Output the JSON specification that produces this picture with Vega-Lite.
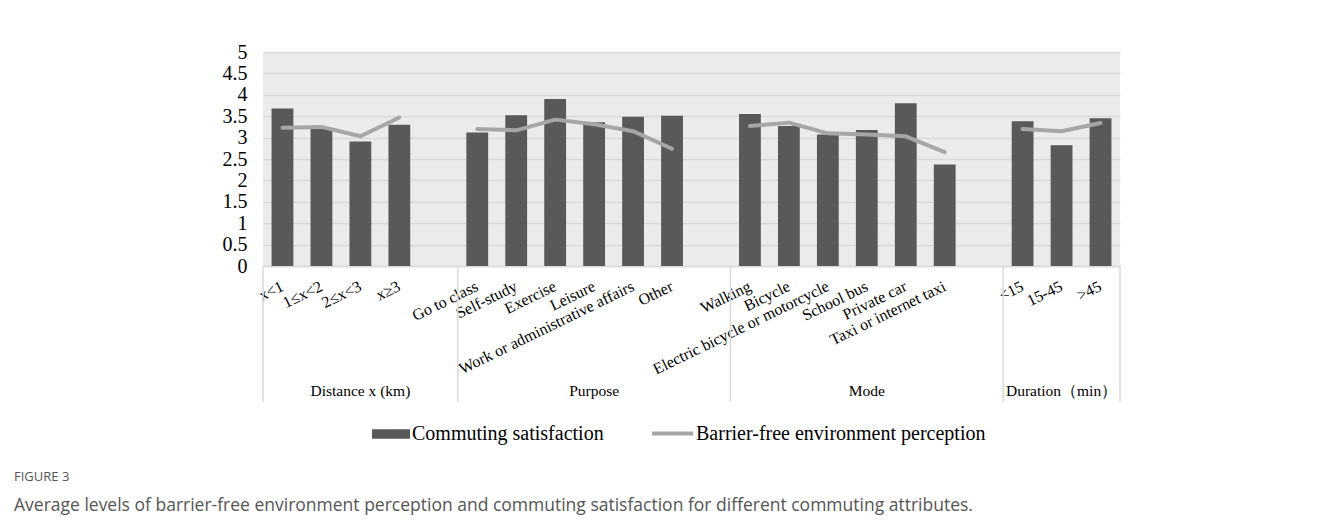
{
  "$schema": "https://vega.github.io/schema/vega-lite/v6.json",
  "width": 857,
  "height": 214,
  "autosize": {"type": "none"},
  "padding": {"left": 263, "top": 52, "right": 199, "bottom": 260},
  "background": "white",
  "config": {
    "view": {"fill": "#ebebeb", "stroke": null},
    "font": "Liberation Serif",
    "axisX": {
      "title": null, "labelAngle": -26, "labelAlign": "right", "labelBaseline": "middle",
      "labelPadding": 19, "ticks": false, "domainColor": "#d9d9d9", "domainWidth": 1.5,
      "labelFont": "Liberation Serif", "labelFontSize": 16, "labelColor": "#000000",
      "labelLimit": 400, "labelOverlap": false, "grid": false, "labelFlush": false
    },
    "axisY": {
      "title": null, "tickCount": 10, "format": ".1~f",
      "grid": true, "gridColor": "#d9d9d9", "gridWidth": 1.5, "domain": false, "ticks": false,
      "labelFont": "Liberation Serif", "labelFontSize": 20, "labelColor": "#000000", "labelPadding": 16,
      "labelOverlap": false, "labelFlush": false
    }
  },
  "datasets": {
    "main": [
      {"idx": 1, "group": "Distance", "cat": "x<1", "sat": 3.68, "perc": 3.23},
      {"idx": 2, "group": "Distance", "cat": "1≤x<2", "sat": 3.20, "perc": 3.25},
      {"idx": 3, "group": "Distance", "cat": "2≤x<3", "sat": 2.91, "perc": 3.03},
      {"idx": 4, "group": "Distance", "cat": "x≥3", "sat": 3.30, "perc": 3.47},
      {"idx": 5, "group": "Purpose", "cat": "Go to class", "sat": 3.12, "perc": 3.20},
      {"idx": 6, "group": "Purpose", "cat": "Self-study", "sat": 3.52, "perc": 3.17},
      {"idx": 7, "group": "Purpose", "cat": "Exercise", "sat": 3.90, "perc": 3.42},
      {"idx": 8, "group": "Purpose", "cat": "Leisure", "sat": 3.36, "perc": 3.31},
      {"idx": 9, "group": "Purpose", "cat": "Work or administrative affairs", "sat": 3.49, "perc": 3.15},
      {"idx": 10, "group": "Purpose", "cat": "Other", "sat": 3.51, "perc": 2.74},
      {"idx": 11, "group": "Mode", "cat": "Walking", "sat": 3.55, "perc": 3.27},
      {"idx": 12, "group": "Mode", "cat": "Bicycle", "sat": 3.27, "perc": 3.35},
      {"idx": 13, "group": "Mode", "cat": "Electric bicycle or motorcycle", "sat": 3.07, "perc": 3.10},
      {"idx": 14, "group": "Mode", "cat": "School bus", "sat": 3.18, "perc": 3.07},
      {"idx": 15, "group": "Mode", "cat": "Private car", "sat": 3.80, "perc": 3.03},
      {"idx": 16, "group": "Mode", "cat": "Taxi or internet taxi", "sat": 2.37, "perc": 2.66},
      {"idx": 17, "group": "Duration", "cat": "<15", "sat": 3.38, "perc": 3.20},
      {"idx": 18, "group": "Duration", "cat": "15-45", "sat": 2.82, "perc": 3.15},
      {"idx": 19, "group": "Duration", "cat": ">45", "sat": 3.45, "perc": 3.34}
    ],
    "seps": [
      {"cat": "x<1"},
      {"cat": "Go to class"},
      {"cat": "Walking"},
      {"cat": "<15"}
    ],
    "sepsEnd": [
      {"cat": ">45"}
    ],
    "groups": [
      {"label": "Distance x (km)", "cat": "2≤x<3"},
      {"label": "Purpose", "cat": "Leisure"},
      {"label": "Mode", "cat": "School bus"},
      {"label": "Duration（min）", "cat": "15-45"}
    ]
  },
  "title": {
    "text": "FIGURE 3",
    "subtitle": "Average levels of barrier-free environment perception and commuting satisfaction for different commuting attributes.",
    "orient": "bottom",
    "anchor": "start",
    "frame": "group",
    "dx": -249,
    "offset": 27,
    "font": "Open Sans",
    "fontSize": 13,
    "fontWeight": "normal",
    "color": "#555555",
    "subtitleFont": "Open Sans",
    "subtitleFontSize": 17.5,
    "subtitleColor": "#555555",
    "subtitlePadding": 13
  },
  "layer": [
    {
      "data": {"name": "main"},
      "mark": {"type": "bar", "width": {"band": 0.56}},
      "encoding": {
        "x": {
          "field": "cat", "type": "nominal", "sort": null,
          "scale": {
            "domain": ["x<1", "1≤x<2", "2≤x<3", "x≥3", " ", "Go to class", "Self-study", "Exercise", "Leisure", "Work or administrative affairs", "Other", "  ", "Walking", "Bicycle", "Electric bicycle or motorcycle", "School bus", "Private car", "Taxi or internet taxi", "   ", "<15", "15-45", ">45"],
            "paddingInner": 0, "paddingOuter": 0
          }
        },
        "y": {
          "field": "sat", "type": "quantitative",
          "scale": {"domain": [0, 5], "nice": false}
        },
        "fill": {
          "datum": "Commuting satisfaction",
          "scale": {"range": ["#595959"]},
          "legend": {
            "title": null, "orient": "none", "legendX": 109, "legendY": 363,
            "symbolType": "M-1,-0.25H1V0.25H-1Z", "symbolSize": 1444, "symbolStrokeWidth": 0,
            "labelFont": "Liberation Serif", "labelFontSize": 20, "labelColor": "#000000", "labelOffset": 2, "labelLimit": 400
          }
        }
      }
    },
    {
      "data": {"name": "main"},
      "mark": {"type": "line", "strokeWidth": 4, "strokeCap": "round", "strokeJoin": "round"},
      "encoding": {
        "x": {
          "field": "cat", "type": "nominal", "sort": null,
          "scale": {
            "domain": ["x<1", "1≤x<2", "2≤x<3", "x≥3", " ", "Go to class", "Self-study", "Exercise", "Leisure", "Work or administrative affairs", "Other", "  ", "Walking", "Bicycle", "Electric bicycle or motorcycle", "School bus", "Private car", "Taxi or internet taxi", "   ", "<15", "15-45", ">45"],
            "paddingInner": 0, "paddingOuter": 0
          }
        },
        "y": {"field": "perc", "type": "quantitative", "scale": {"domain": [0, 5], "nice": false}},
        "detail": {"field": "group"},
        "order": {"field": "idx"},
        "stroke": {
          "datum": "Barrier-free environment perception",
          "scale": {"range": ["#a6a6a6"]},
          "legend": {
            "title": null, "orient": "none", "legendX": 387, "legendY": 359,
            "symbolType": "stroke", "symbolSize": 1681, "symbolStrokeWidth": 4,
            "labelFont": "Liberation Serif", "labelFontSize": 20, "labelColor": "#000000", "labelOffset": 1, "labelLimit": 400
          }
        }
      }
    },
    {
      "data": {"name": "seps"},
      "mark": {"type": "rule", "color": "#d9d9d9", "strokeWidth": 1.5},
      "encoding": {
        "x": {
          "field": "cat", "type": "nominal", "bandPosition": 0, "sort": null,
          "scale": {
            "domain": ["x<1", "1≤x<2", "2≤x<3", "x≥3", " ", "Go to class", "Self-study", "Exercise", "Leisure", "Work or administrative affairs", "Other", "  ", "Walking", "Bicycle", "Electric bicycle or motorcycle", "School bus", "Private car", "Taxi or internet taxi", "   ", "<15", "15-45", ">45"],
            "paddingInner": 0, "paddingOuter": 0
          }
        },
        "y": {"datum": 0, "type": "quantitative", "scale": {"domain": [0, 5], "nice": false}},
        "y2": {"datum": -3.17}
      }
    },
    {
      "data": {"name": "sepsEnd"},
      "mark": {"type": "rule", "color": "#d9d9d9", "strokeWidth": 1.5},
      "encoding": {
        "x": {
          "field": "cat", "type": "nominal", "bandPosition": 1, "sort": null,
          "scale": {
            "domain": ["x<1", "1≤x<2", "2≤x<3", "x≥3", " ", "Go to class", "Self-study", "Exercise", "Leisure", "Work or administrative affairs", "Other", "  ", "Walking", "Bicycle", "Electric bicycle or motorcycle", "School bus", "Private car", "Taxi or internet taxi", "   ", "<15", "15-45", ">45"],
            "paddingInner": 0, "paddingOuter": 0
          }
        },
        "y": {"datum": 0, "type": "quantitative", "scale": {"domain": [0, 5], "nice": false}},
        "y2": {"datum": -3.17}
      }
    },
    {
      "data": {"name": "groups"},
      "mark": {"type": "text", "font": "Liberation Serif", "fontSize": 15.5, "color": "#000000", "baseline": "middle", "align": "center"},
      "encoding": {
        "x": {
          "field": "cat", "type": "nominal", "sort": null,
          "scale": {
            "domain": ["x<1", "1≤x<2", "2≤x<3", "x≥3", " ", "Go to class", "Self-study", "Exercise", "Leisure", "Work or administrative affairs", "Other", "  ", "Walking", "Bicycle", "Electric bicycle or motorcycle", "School bus", "Private car", "Taxi or internet taxi", "   ", "<15", "15-45", ">45"],
            "paddingInner": 0, "paddingOuter": 0
          }
        },
        "y": {"datum": -2.92, "type": "quantitative", "scale": {"domain": [0, 5], "nice": false}},
        "text": {"field": "label"}
      }
    }
  ]
}
